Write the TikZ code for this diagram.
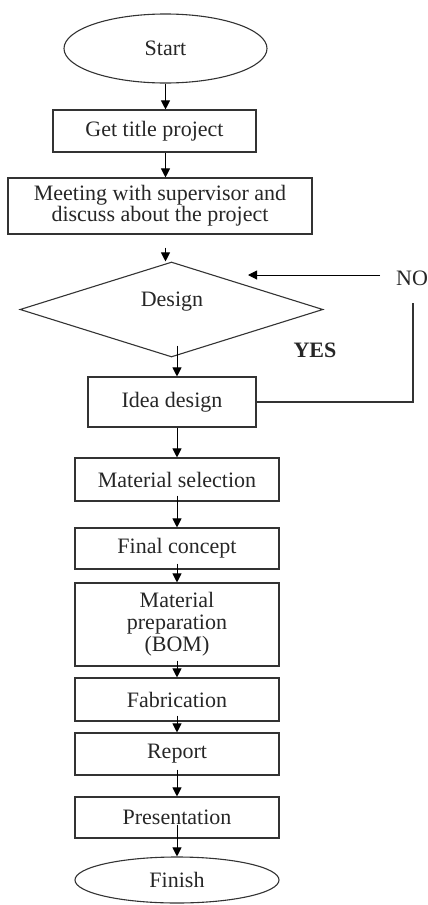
\documentclass[tikz,border=0pt]{standalone}
\usepackage{fontspec}
\setmainfont{Liberation Serif}
\usetikzlibrary{shapes.geometric,arrows.meta}
\begin{document}
\begin{tikzpicture}[x=1pt,y={(0pt,-1pt)},
  box/.style={draw=black!80,line width=1.1pt,rectangle,inner sep=0pt,minimum width=204pt,align=center,text=black!85,font=\fontsize{22}{22}\selectfont},
  term/.style={draw=black!80,line width=1.1pt,ellipse,inner sep=0pt,text=black!85,font=\fontsize{22}{22}\selectfont},
  lbl/.style={inner sep=0pt,text=black!85,font=\fontsize{22}{22}\selectfont},
  arr/.style={draw=black,line width=1pt,-{Triangle[length=9pt,width=9pt]}},
  ln/.style={draw=black!80,line width=1.1pt}]
\useasboundingbox (0,0) rectangle (428,905);
\node[term,minimum width=203pt,minimum height=69pt] (start) at (165.5,48.5) {Start};
\node[box,minimum width=203pt,minimum height=42pt] (title) at (154.5,131) {Get title project};
\node[box,minimum width=304pt,minimum height=56pt,font=\fontsize{22}{21}\selectfont] (meeting) at (160,206) {Meeting with supervisor and\\discuss about the project};
\node[draw=black!80,line width=1.1pt,diamond,inner sep=0pt,minimum width=303pt,minimum height=95pt] (design) at (171.5,309.5) {};
\node[lbl] (designtxt) at (172,302) {Design};
\node[lbl] (no) at (412,278) {NO};
\node[lbl,font=\fontsize{22}{22}\selectfont\bfseries] (yes) at (315,350) {YES};
\node[box,minimum width=168pt,minimum height=50pt] (idea) at (172,402) {Idea design};
\node[box,minimum height=43pt] (matsel) at (177,479.5) {Material selection};
\node[box,minimum height=41pt] (final) at (177,548.5) {Final concept};
\node[box,minimum height=83pt] (prep) at (177,624.5) {Material\\preparation\\(BOM)};
\node[box,minimum height=43pt] (fab) at (177,699.5) {Fabrication};
\node[box,minimum height=42pt] (report) at (177,754) {Report};
\node[box,minimum height=41pt] (pres) at (177,817.5) {Presentation};
\node[term,minimum width=204pt,minimum height=46pt] (finish) at (177,880) {Finish};
\coordinate (noa) at (380,275);
\coordinate (nob) at (248,275);
\coordinate (fbtop) at (413,303);
\draw[arr] (start.south) -- (start.south |- title.north);
\draw[arr] (start.south |- title.south) -- (start.south |- meeting.north);
\draw[arr] ([yshift=-13pt]meeting.south -| start.south) -- (start.south |- design.north);
\draw[arr] (noa) -- (nob);
\draw[ln] (idea.east) -| (fbtop);
\draw[arr] ([yshift=12pt]design.south -| matsel.north) -- (matsel.north |- idea.north);
\draw[arr] (matsel.north |- idea.south) -- (matsel.north);
\draw[arr] ([yshift=6pt]matsel.south) -- (final.north);
\draw[arr] ([yshift=6pt]final.south) -- (prep.north);
\draw[arr] ([yshift=6pt]prep.south) -- (fab.north);
\draw[arr] ([yshift=6pt]fab.south) -- (report.north);
\draw[arr] ([yshift=6pt]report.south) -- (pres.north);
\draw[arr] ([yshift=14pt]pres.south) -- (finish.north);
\end{tikzpicture}
\end{document}
